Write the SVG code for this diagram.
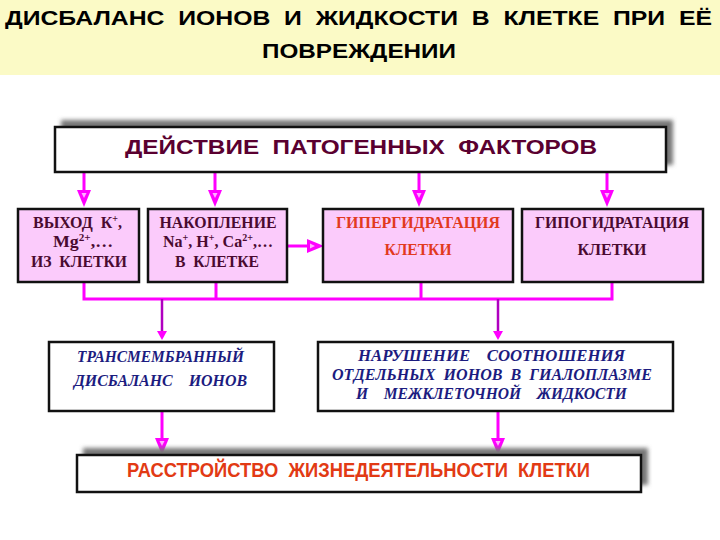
<svg xmlns="http://www.w3.org/2000/svg" width="720" height="540" viewBox="0 0 720 540">
<style>
.title{font-family:"Liberation Sans","DejaVu Sans",sans-serif;font-weight:bold;font-size:21px;fill:#000}
.head{font-family:"Liberation Sans","DejaVu Sans",sans-serif;font-weight:bold;font-size:21px}
.pink{fill:#FBCBFB;stroke:#111;stroke-width:2.5}
.white{fill:#fff;stroke:#111;stroke-width:2.5}
.ser{font-family:"Liberation Serif","DejaVu Serif",serif;font-weight:bold;font-size:16px;fill:#4A0A30}
.red{fill:#E23A1E}
.ital{font-family:"Liberation Serif","DejaVu Serif",serif;font-weight:bold;font-style:italic;font-size:16px;fill:#1C1C80}
.conn{stroke:#FF00FF;stroke-width:3;fill:none}
.dconn{stroke:#B000C0;stroke-width:2.5;fill:none}
</style>
<defs>
<filter id="blur" x="-10%" y="-30%" width="120%" height="160%"><feGaussianBlur stdDeviation="2"/></filter>
<marker id="big" viewBox="0 0 17 14" refX="0" refY="7" markerWidth="17" markerHeight="14" markerUnits="userSpaceOnUse" orient="auto">
<path d="M0,0 L17,7 L0,14 Z" fill="#FF00FF"/>
<path d="M3,4.5 L8,7 L3,9.5 Z" fill="#FFB0FF"/>
</marker>
<marker id="small" viewBox="0 0 9 10" refX="0" refY="5" markerWidth="9" markerHeight="10" markerUnits="userSpaceOnUse" orient="auto">
<path d="M0,0 L9,5 L0,10 Z" fill="#FF00FF"/>
</marker>
</defs>

<rect x="0" y="0" width="720" height="75" fill="#FBFAC6"/>
<text class="title" x="5" y="25" textLength="707" lengthAdjust="spacingAndGlyphs" xml:space="preserve">ДИСБАЛАНС  ИОНОВ  И  ЖИДКОСТИ  В  КЛЕТКЕ  ПРИ  ЕЁ</text>
<text class="title" x="262" y="58" textLength="194" lengthAdjust="spacingAndGlyphs">ПОВРЕЖДЕНИИ</text>

<g id="connectors">
<line class="conn" x1="84" y1="172" x2="84" y2="190" marker-end="url(#big)"/>
<line class="conn" x1="215" y1="172" x2="215" y2="190" marker-end="url(#big)"/>
<line class="conn" x1="419" y1="172" x2="419" y2="190" marker-end="url(#big)"/>
<line class="conn" x1="607" y1="172" x2="607" y2="190" marker-end="url(#big)"/>
<line class="conn" x1="287" y1="246" x2="307" y2="246" marker-end="url(#big)"/>
<path class="conn" d="M84,282 V299 H612 V282 M216,282 V299 M421,282 V299"/>
<line class="dconn" x1="162" y1="299" x2="162" y2="331" marker-end="url(#small)"/>
<line class="dconn" x1="498" y1="299" x2="498" y2="331" marker-end="url(#small)"/>
<line class="conn" x1="162" y1="411" x2="162" y2="438" marker-end="url(#big)"/>
<line class="conn" x1="498" y1="411" x2="498" y2="438" marker-end="url(#big)"/>
</g>

<g id="n-factors">
<rect x="61" y="120" width="612" height="45" fill="#777" filter="url(#blur)"/>
<rect x="55" y="127" width="611" height="45" class="white"/>
<text class="head" x="125" y="154" fill="#5A0030" textLength="472" lengthAdjust="spacingAndGlyphs" xml:space="preserve">ДЕЙСТВИЕ  ПАТОГЕННЫХ  ФАКТОРОВ</text>
</g>

<g id="n-out">
<rect x="18" y="209" width="121" height="73" class="pink"/>
<text class="ser" x="33" y="228" textLength="89" lengthAdjust="spacingAndGlyphs" xml:space="preserve">ВЫХОД  К<tspan font-size="10" dy="-6">+</tspan><tspan dy="6">,</tspan></text>
<text class="ser" x="53" y="247" textLength="60" lengthAdjust="spacingAndGlyphs">Mg<tspan font-size="10" dy="-6">2+</tspan><tspan dy="6">,…</tspan></text>
<text class="ser" x="79" y="267" text-anchor="middle" textLength="96" lengthAdjust="spacingAndGlyphs" xml:space="preserve">ИЗ  КЛЕТКИ</text>
</g>

<g id="n-accum">
<rect x="148" y="209" width="139" height="73" class="pink"/>
<text class="ser" x="218" y="228" text-anchor="middle" textLength="117" lengthAdjust="spacingAndGlyphs">НАКОПЛЕНИЕ</text>
<text class="ser" x="163" y="247" textLength="110" lengthAdjust="spacingAndGlyphs">Na<tspan font-size="10" dy="-6">+</tspan><tspan dy="6">, H</tspan><tspan font-size="10" dy="-6">+</tspan><tspan dy="6">, Ca</tspan><tspan font-size="10" dy="-6">2+</tspan><tspan dy="6">,…</tspan></text>
<text class="ser" x="217" y="267" text-anchor="middle" textLength="84" lengthAdjust="spacingAndGlyphs" xml:space="preserve">В  КЛЕТКЕ</text>
</g>

<g id="n-hyper">
<rect x="323" y="209" width="190" height="73" class="pink"/>
<text class="ser red" x="418" y="228" text-anchor="middle" textLength="164" lengthAdjust="spacingAndGlyphs">ГИПЕРГИДРАТАЦИЯ</text>
<text class="ser red" x="418" y="255" text-anchor="middle" textLength="67" lengthAdjust="spacingAndGlyphs">КЛЕТКИ</text>
</g>

<g id="n-hypo">
<rect x="522" y="209" width="181" height="73" class="pink"/>
<text class="ser" x="612" y="228" text-anchor="middle" textLength="154" lengthAdjust="spacingAndGlyphs">ГИПОГИДРАТАЦИЯ</text>
<text class="ser" x="612" y="255" text-anchor="middle" textLength="69" lengthAdjust="spacingAndGlyphs">КЛЕТКИ</text>
</g>

<g id="n-trans">
<rect x="49" y="342" width="225" height="69" class="white"/>
<text class="ital" x="77" y="362" textLength="167" lengthAdjust="spacingAndGlyphs">ТРАНСМЕМБРАННЫЙ</text>
<text class="ital" x="74" y="386" textLength="173" lengthAdjust="spacingAndGlyphs" xml:space="preserve">ДИСБАЛАНС    ИОНОВ</text>
</g>

<g id="n-ratio">
<rect x="318" y="342" width="355" height="69" class="white"/>
<text class="ital" x="358" y="361" textLength="267" lengthAdjust="spacingAndGlyphs" xml:space="preserve">НАРУШЕНИЕ    СООТНОШЕНИЯ</text>
<text class="ital" x="332" y="380" textLength="320" lengthAdjust="spacingAndGlyphs" xml:space="preserve">ОТДЕЛЬНЫХ  ИОНОВ  В  ГИАЛОПЛАЗМЕ</text>
<text class="ital" x="356" y="399" textLength="271" lengthAdjust="spacingAndGlyphs" xml:space="preserve">И    МЕЖКЛЕТОЧНОЙ    ЖИДКОСТИ</text>
</g>

<g id="n-result">
<rect x="83" y="448" width="565" height="37" fill="#777" filter="url(#blur)"/>
<rect x="77" y="455" width="564" height="37" class="white"/>
<text class="head" x="127" y="477" fill="#E23A14" font-size="19" textLength="463" lengthAdjust="spacingAndGlyphs" xml:space="preserve">РАССТРОЙСТВО  ЖИЗНЕДЕЯТЕЛЬНОСТИ  КЛЕТКИ</text>
</g>
</svg>
